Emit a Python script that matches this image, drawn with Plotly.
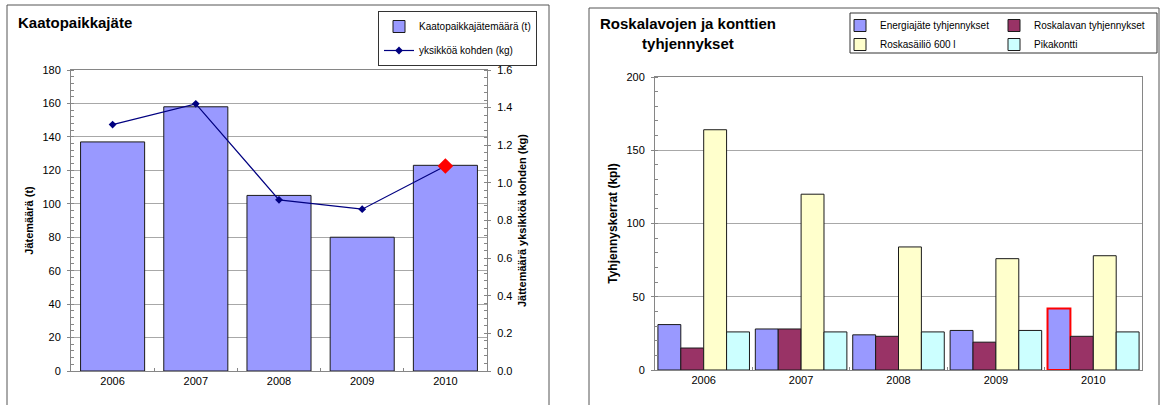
import plotly.graph_objects as go

# --- data ------------------------------------------------------------------
years = ["2006", "2007", "2008", "2009", "2010"]

# left chart: landfill waste
landfill_t = [137, 158, 105, 80, 123]
per_unit_kg = [1.31, 1.42, 0.91, 0.86, 1.09]

# right chart: emptyings per year
energia = [31, 28, 24, 27, 42]
roskalava = [15, 28, 23, 19, 23]
sailio600 = [164, 120, 84, 76, 78]
pikakontti = [26, 26, 26, 27, 26]

W, H = 1160, 405
FONT = "Arial, Liberation Sans, sans-serif"
AXIS_GREY = "#868686"
GRID_GREY = "#a8a8a8"


def px_x(x):
    return x / W


def px_y(y):
    return 1 - y / H


fig = go.Figure()

# --- left: Kaatopaikkajäte --------------------------------------------------
fig.add_trace(go.Bar(
    x=years, y=landfill_t, width=0.77, name="Kaatopaikkajätemäärä (t)",
    marker=dict(color="#9999FF", line=dict(color="#1a1a1a", width=1)),
    xaxis="x", yaxis="y", legend="legend", legendgroup="a"))
fig.add_trace(go.Scatter(
    x=years, y=per_unit_kg, mode="lines+markers", name="yksikköä kohden (kg)",
    line=dict(color="#000080", width=1.2),
    marker=dict(symbol="diamond", size=6, color="#000080"),
    xaxis="x", yaxis="y2", legend="legend", legendgroup="b"))
# highlighted latest point
fig.add_trace(go.Scatter(
    x=years[-1:], y=per_unit_kg[-1:], mode="markers", showlegend=False,
    marker=dict(symbol="diamond", size=12, color="#FF0000"),
    xaxis="x", yaxis="y2"))

# --- right: Roskalavojen ja konttien tyhjennykset ---------------------------
edge = ["#1a1a1a"] * (len(years) - 1) + ["#FF0000"]
edge_w = [1] * (len(years) - 1) + [2]
fig.add_trace(go.Bar(
    x=years, y=energia, name="Energiajäte tyhjennykset",
    marker=dict(color="#9999FF", line=dict(color=edge, width=edge_w)),
    xaxis="x2", yaxis="y3", legend="legend2"))
fig.add_trace(go.Bar(
    x=years, y=roskalava, name="Roskalavan tyhjennykset",
    marker=dict(color="#993366", line=dict(color="#1a1a1a", width=1)),
    xaxis="x2", yaxis="y3", legend="legend3"))
fig.add_trace(go.Bar(
    x=years, y=sailio600, name="Roskasäiliö 600 l",
    marker=dict(color="#FFFFCC", line=dict(color="#1a1a1a", width=1)),
    xaxis="x2", yaxis="y3", legend="legend2"))
fig.add_trace(go.Bar(
    x=years, y=pikakontti, name="Pikakontti",
    marker=dict(color="#CCFFFF", line=dict(color="#1a1a1a", width=1)),
    xaxis="x2", yaxis="y3", legend="legend3"))

tickfont = dict(family=FONT, size=11, color="#000")
title_font = dict(family=FONT, size=11, color="#000")

xcommon = dict(type="category", showline=True, mirror=True, linecolor=AXIS_GREY,
               ticks="inside", tickson="boundaries", ticklen=3, tickcolor=AXIS_GREY,
               tickfont=tickfont, showgrid=False, fixedrange=True, automargin=False)
ycommon = dict(showline=True, linecolor=AXIS_GREY, ticks="outside", ticklen=3,
               tickcolor=AXIS_GREY, tickfont=tickfont, zeroline=False,
               fixedrange=True, ticklabelstandoff=4, automargin=False)

fig.update_layout(
    width=W, height=H,
    margin=dict(l=0, r=0, t=0, b=0, autoexpand=False),
    paper_bgcolor="white", plot_bgcolor="white",
    font=dict(family=FONT, color="#000"),
    barmode="group", bargap=0.06, bargroupgap=0,
    xaxis=dict(domain=[px_x(71), px_x(487)], anchor="y", **xcommon),
    yaxis=dict(domain=[px_y(371), px_y(70)], anchor="x", range=[0, 180], dtick=20,
               mirror=True, showgrid=True, gridcolor=GRID_GREY,
               minor=dict(dtick=4, ticks="inside", ticklen=3, tickcolor=AXIS_GREY,
                          showgrid=False),
               title=dict(text="<b>Jätemäärä (t)</b>", font=title_font, standoff=6),
               **ycommon),
    yaxis2=dict(overlaying="y", side="right", anchor="x", range=[0, 1.6], dtick=0.2,
                tickformat=".1f", showgrid=False,
                minor=dict(dtick=0.04, ticks="inside", ticklen=3, tickcolor=AXIS_GREY),
                title=dict(text="<b>Jättemäärä yksikköä kohden (kg)</b>",
                           font=title_font, standoff=6),
                **ycommon),
    xaxis2=dict(domain=[px_x(655), px_x(1142)], anchor="y3", **xcommon),
    yaxis3=dict(domain=[px_y(370), px_y(77)], anchor="x2", range=[0, 200], dtick=50,
                mirror=True, showgrid=True, gridcolor=GRID_GREY,
                minor=dict(dtick=10, ticks="inside", ticklen=3, tickcolor=AXIS_GREY,
                           showgrid=False),
                title=dict(text="<b>Tyhjennyskerrat (kpl)</b>",
                           font=dict(family=FONT, size=12, color="#000"), standoff=6),
                **ycommon),
    legend=dict(x=px_x(378), y=px_y(11), xanchor="left", yanchor="top",
                bordercolor="#333", borderwidth=1, bgcolor="white",
                font=dict(family=FONT, size=10), tracegroupgap=5),
    legend2=dict(x=px_x(840), y=px_y(11), xanchor="left", yanchor="top",
                 bgcolor="rgba(0,0,0,0)", font=dict(family=FONT, size=10)),
    legend3=dict(x=px_x(994), y=px_y(11), xanchor="left", yanchor="top",
                 bgcolor="rgba(0,0,0,0)", font=dict(family=FONT, size=10)),
    showlegend=True,
)

# panel frames and the right legend box
frame = dict(color="#555", width=1)
fig.add_shape(type="rect", xref="paper", yref="paper", x0=px_x(7), x1=px_x(549),
              y0=-0.05, y1=px_y(5), line=frame, layer="below")
fig.add_shape(type="rect", xref="paper", yref="paper", x0=px_x(589), x1=px_x(1159),
              y0=-0.05, y1=px_y(8), line=frame, layer="below")
fig.add_shape(type="rect", xref="paper", yref="paper", x0=px_x(850), x1=px_x(1157),
              y0=px_y(53), y1=px_y(13), line=dict(color="#333", width=1))

fig.add_annotation(text="<b>Kaatopaikkajäte</b>", xref="paper", yref="paper",
                   x=px_x(16), y=px_y(22), xanchor="left", yanchor="middle",
                   showarrow=False, font=dict(family=FONT, size=15, color="#000"))
fig.add_annotation(text="<b>Roskalavojen ja konttien<br>tyhjennykset</b>",
                   xref="paper", yref="paper", x=px_x(598), y=px_y(13),
                   xanchor="left", yanchor="top", align="center",
                   showarrow=False, font=dict(family=FONT, size=15, color="#000"))

# the page's default body margin would push the figure 8px right and down
fig.write_html("out.html", config={"displayModeBar": False},
               post_script="document.body.style.margin = '0';")
